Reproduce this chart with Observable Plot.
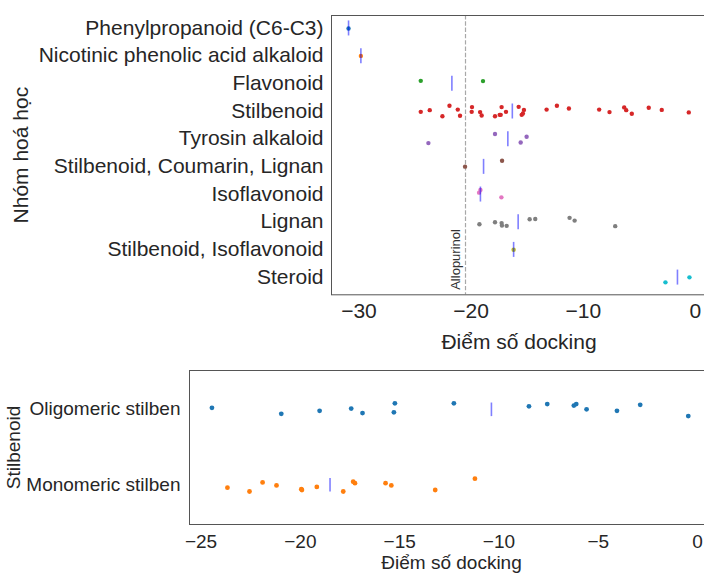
<!DOCTYPE html>
<html><head><meta charset="utf-8">
<script src="https://cdn.jsdelivr.net/npm/d3@7"></script>
<script src="https://cdn.jsdelivr.net/npm/@observablehq/plot@0.6"></script>
<style>
html,body{margin:0;padding:0;background:#fff;overflow:hidden;width:704px;height:573px}
#wrap{position:relative;width:704px;height:573px;overflow:hidden;background:#fff}
#top,#bottom{position:absolute;left:0}
#top{top:0}
#bottom{top:330px}
svg{max-width:none !important}
</style></head><body>
<div id="wrap"><div id="top"></div><div id="bottom"></div></div>
<script>
// ---------- data: top panel ----------
const categories = [
  "Phenylpropanoid (C6-C3)", "Nicotinic phenolic acid alkaloid", "Flavonoid", "Stilbenoid",
  "Tyrosin alkaloid", "Stilbenoid, Coumarin, Lignan", "Isoflavonoid", "Lignan",
  "Stilbenoid, Isoflavonoid", "Steroid"
];
const palette = ["#1f77b4","#ff7f0e","#2ca02c","#d62728","#9467bd","#8c564b","#e377c2","#7f7f7f","#bcbd22","#17becf"];

const phenylScores = [-30.93];            const phenylJitter = [0.02];
const nicotinicScores = [-29.83];         const nicotinicJitter = [0.01];
const flavonoidScores = [-24.49, -18.94]; const flavonoidJitter = [-0.09, -0.08];
const stilbenoidScores = [-24.49,-23.69,-22.56,-21.93,-21.19,-20.99,-19.92,-19.95,-19.20,-19.06,
  -17.87,-17.45,-17.36,-17.28,-16.89,-15.76,-15.49,-15.29,-15.38,-13.27,
  -12.35,-11.28,-8.58,-7.66,-6.35,-6.17,-5.67,-4.16,-3.00,-0.59];
const stilbenoidJitter = [0.03,-0.03,0.19,-0.19,-0.05,0.17,-0.14,0.03,0.04,0.16,
  0.19,0.14,0.14,-0.14,0.03,-0.15,0.14,-0.04,0.09,-0.05,
  -0.19,-0.09,-0.05,0.04,-0.13,-0.03,0.10,-0.12,-0.04,0.05];
const tyrosinScores = [-23.81, -17.87, -15.58, -15.05]; const tyrosinJitter = [0.16, -0.17, 0.14, -0.07];
const sclScores = [-20.54, -17.24];       const sclJitter = [0.01, -0.20];
const isoflavScores = [-19.29, -19.17, -17.30]; const isoflavJitter = [-0.05, -0.15, 0.12];
const lignanScores = [-19.26,-17.87,-17.28,-17.25,-16.83,-14.78,-14.28,-11.22,-10.77,-7.15];
const lignanJitter = [0.09,0.02,0.05,0.14,0.15,-0.09,-0.10,-0.14,-0.04,0.16];
const siScores = [-16.21];                const siJitter = [0.01];
const steroidScores = [-2.67, -0.53];     const steroidJitter = [0.19, 0.01];

const allopurinol = -20.5;
const xTicksTop = [-30, -20, -10, 0];

// ---------- data: bottom panel ----------
const subCategories = ["Oligomeric stilben", "Monomeric stilben"];
const subPalette = ["#1f77b4", "#ff7f0e"];
const oligoScores = [-24.45,-20.96,-19.03,-17.44,-16.87,-15.24,-15.29,-12.27,-8.49,-7.57,-6.23,-6.11,-5.59,-4.06,-2.89,-0.47];
const oligoJitter = [-0.02,0.06,0.02,-0.01,0.05,-0.08,0.04,-0.08,-0.04,-0.07,-0.05,-0.07,0.00,0.02,-0.06,0.09];
const monoScores = [-23.67,-22.56,-21.90,-21.20,-19.92,-19.95,-19.17,-17.84,-17.34,-17.25,-15.71,-15.42,-13.21,-11.21];
const monoJitter = [0.04,0.09,-0.03,0.01,0.07,0.06,0.03,0.09,-0.04,-0.02,-0.02,0.01,0.07,-0.08];
const xTicksBottom = [-25, -20, -15, -10, -5, 0];

// ---------- build tables ----------
const topGroups = [
  [phenylScores, phenylJitter], [nicotinicScores, nicotinicJitter], [flavonoidScores, flavonoidJitter],
  [stilbenoidScores, stilbenoidJitter], [tyrosinScores, tyrosinJitter], [sclScores, sclJitter],
  [isoflavScores, isoflavJitter], [lignanScores, lignanJitter], [siScores, siJitter], [steroidScores, steroidJitter]
];
const topPoints = topGroups.flatMap(([s, j], k) => s.map((v, i) => ({cat: categories[k], score: v, y: k + j[i]})));
const topMedians = topGroups.map(([s], k) => ({cat: categories[k], score: d3.median(s), y: k}));

const subGroups = [[oligoScores, oligoJitter], [monoScores, monoJitter]];
const subPoints = subGroups.flatMap(([s, j], k) => s.map((v, i) => ({cat: subCategories[k], score: v, y: k + j[i]})));
const subMedians = subGroups.map(([s], k) => ({cat: subCategories[k], score: d3.median(s), y: k}));

const vbar = {draw(ctx, size) { const r = Math.sqrt(size / Math.PI); ctx.moveTo(0, -r); ctx.lineTo(0, r); }};
const font = "'Liberation Sans', Arial, Helvetica, sans-serif";

const topChart = Plot.plot({
  width: 720, height: 380,
  marginTop: 15, marginBottom: 85.7, marginLeft: 331, marginRight: 14,
  style: {fontSize: "21px", fontFamily: font, color: "#262626", background: "transparent", overflow: "visible"},
  x: {domain: [-32.45, 0.99], ticks: xTicksTop, tickSize: 0, tickPadding: 8, label: null},
  y: {domain: [-0.45, 9.64], reverse: true, ticks: d3.range(categories.length), tickFormat: i => categories[i], tickSize: 0, tickPadding: 8, label: null},
  color: {domain: categories, range: palette},
  marks: [
    Plot.ruleX([allopurinol], {stroke: "#a8a8a8", strokeWidth: 1.2, strokeDasharray: "4.4,1.9"}),
    Plot.text([allopurinol], {x: d => d, text: () => "Allopurinol", frameAnchor: "bottom", rotate: -90, textAnchor: "start", lineAnchor: "bottom", dx: -5.5, dy: -5, fontSize: 13, fill: "#333"}),
    Plot.dot(topPoints, {x: "score", y: "y", r: 2.2, fill: "cat", stroke: "none"}),
    Plot.dot(topMedians, {x: "score", y: "y", r: 7.5, symbol: vbar, fill: "none", stroke: "#0000ff", strokeOpacity: 0.5, strokeWidth: 1.6}),
    Plot.frame({stroke: "#555"}),
    Plot.text(["Điểm số docking"], {text: d => d, frameAnchor: "bottom", textAnchor: "middle", lineAnchor: "top", dy: 39, fontSize: 21, fill: "#262626"}),
    Plot.text(["Nhóm hoá học"], {text: d => d, frameAnchor: "left", rotate: -90, textAnchor: "middle", lineAnchor: "middle", dx: -310, fontSize: 21, fill: "#262626"})
  ]
});
document.getElementById("top").appendChild(topChart);

const bottomChart = Plot.plot({
  width: 720, height: 243,
  marginTop: 40, marginBottom: 49, marginLeft: 189, marginRight: 7,
  style: {fontSize: "19px", fontFamily: font, color: "#262626", background: "transparent", overflow: "visible"},
  x: {domain: [-25.58, 0.8], ticks: xTicksBottom, tickSize: 0, tickPadding: 10, label: null},
  y: {domain: [-0.515, 1.528], reverse: true, ticks: [0, 1], tickFormat: i => subCategories[i], tickSize: 0, tickPadding: 9, label: null},
  color: {domain: subCategories, range: subPalette},
  marks: [
    Plot.dot(subPoints, {x: "score", y: "y", r: 2.4, fill: "cat", stroke: "none"}),
    Plot.dot(subMedians, {x: "score", y: "y", r: 6.8, symbol: vbar, fill: "none", stroke: "#0000ff", strokeOpacity: 0.5, strokeWidth: 1.6}),
    Plot.frame({stroke: "#555"}),
    Plot.text(["Điểm số docking"], {text: d => d, frameAnchor: "bottom", textAnchor: "middle", lineAnchor: "top", dy: 31, fontSize: 19, fill: "#262626"}),
    Plot.text(["Stilbenoid"], {text: d => d, frameAnchor: "left", rotate: -90, textAnchor: "middle", lineAnchor: "middle", dx: -176, fontSize: 19, fill: "#262626"})
  ]
});
document.getElementById("bottom").appendChild(bottomChart);
</script>
</body></html>
